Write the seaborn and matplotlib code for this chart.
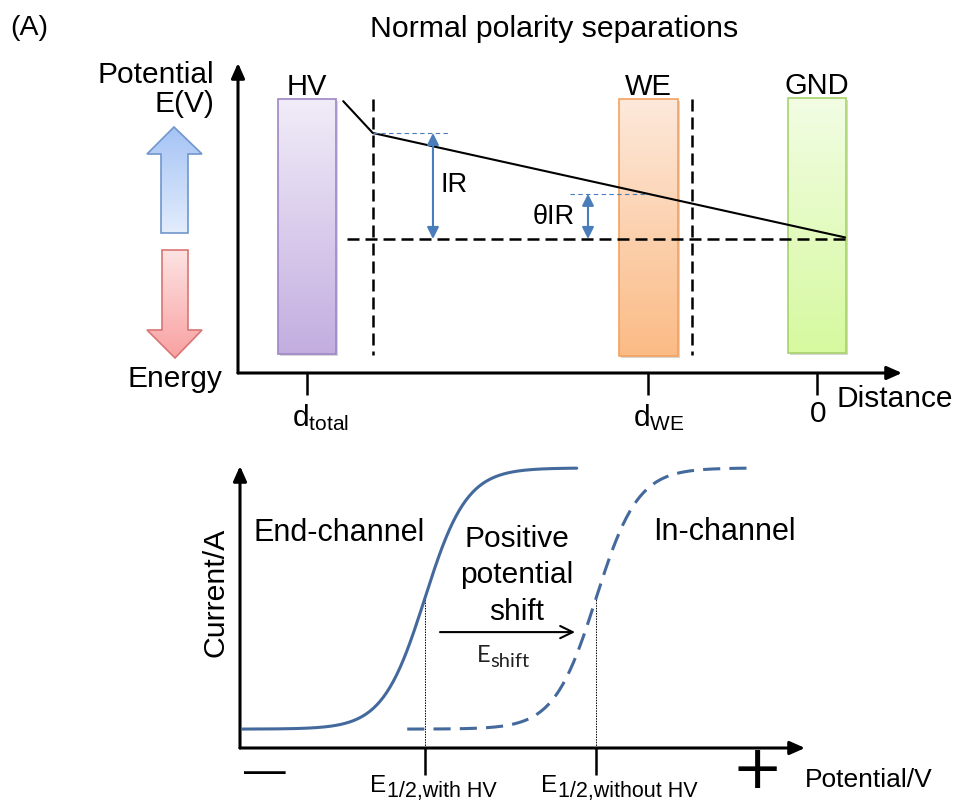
import numpy as np
import pandas as pd
import matplotlib
matplotlib.use("Agg")
import matplotlib.pyplot as plt
import matplotlib.colors as mcolors
import matplotlib.transforms as mtransforms
from matplotlib.patches import Rectangle, Polygon
import seaborn as sns

# ---------------- top panel: potential profile along the channel ----------------
electrodes = ["HV", "WE", "GND"]
electrode_distance = [10.0, 3.31, 0.0]          # distance measured from GND
electrode_top = [13.2, 13.2, 13.3]              # potential-axis extent of each electrode
electrode_bottom = [-10.85, -11.0, -10.75]
electrode_colors = [("#f1ecf8", "#c3aee0", "#9f86c6"),
                    ("#fde9db", "#fbbb85", "#f3a25f"),
                    ("#f2fde4", "#d6f99f", "#a8d26c")]
profile_distance = [9.29, 8.71, -0.55]
profile_potential = [13.0, 10.0, 0.15]
channel_bounds = [8.71, 2.45]
baseline_span = [9.22, -0.55]
ir_drop = 10.0
theta_ir = 4.26
distance_ticks = [10.0, 3.31, 0.0]
distance_ticklabels = [r"$\mathregular{d_{total}}$", r"$\mathregular{d_{WE}}$", "0"]

# ---------------- bottom panel: sigmoidal voltammograms ----------------
curve_names = ["End-channel", "In-channel"]
e_half = [3.27, 6.30]                 # half-wave potentials
curve_start = [0.04, 2.96]
curve_end = [5.96, 8.97]
i_base = 0.67
i_lim = 9.93
wave_width = 0.372
e_half_labels = ["1/2,with HV", "1/2,without HV"]

BLUE = "#4a7ebb"
CURVE = "#44699c"

sns.set_theme(style="white")
plt.rcParams["font.family"] = ["Liberation Sans", "DejaVu Sans"]
plt.rcParams["text.color"] = "black"
plt.rcParams["mathtext.fontset"] = "custom"
plt.rcParams["mathtext.rm"] = "Liberation Sans"
plt.rcParams["mathtext.it"] = "Liberation Sans:italic"
plt.rcParams["mathtext.bf"] = "Liberation Sans:bold"

W, H = 955, 802
fig = plt.figure(figsize=(W / 100, H / 100), dpi=100)


def px_axes(left, top, right, bottom):
    return fig.add_axes([left / W, 1 - bottom / H, (right - left) / W, (bottom - top) / H])


def gradient_fill(ax, extent, top_color, bottom_color, clip=None, zorder=1):
    c0 = np.array(mcolors.to_rgb(top_color))
    c1 = np.array(mcolors.to_rgb(bottom_color))
    t = np.linspace(0, 1, 256)[:, None]
    img = (c0 + (c1 - c0) * t)[:, None, :]
    im = ax.imshow(img, extent=extent, origin="upper", aspect="auto",
                   zorder=zorder, interpolation="bilinear")
    if clip is not None:
        im.set_clip_path(clip)
    return im


def axis_arrows(ax):
    style = "-|>,head_length=0.45,head_width=0.2"
    for end in [(0, 1), (1, 0)]:
        ax.annotate("", xy=end, xytext=(0, 0), xycoords="axes fraction",
                    arrowprops=dict(arrowstyle=style, lw=2.2, color="black",
                                    shrinkA=0, shrinkB=0, mutation_scale=20),
                    annotation_clip=False)


# overlay in pixel units for the surrounding labels and energy arrows
ov = fig.add_axes([0, 0, 1, 1])
ov.axis("off")

ax1 = px_axes(238, 63, 902, 373)
ax2 = px_axes(240, 466, 805, 748)
for ax in (ax1, ax2):
    ax.set_facecolor("none")
    for s in ax.spines.values():
        s.set_visible(False)
    ax.set_yticks([])

# ---- energy arrows ----
up = Polygon([(161, 233), (161, 154), (147, 154), (174, 127), (202, 154), (188, 154), (188, 233)],
             closed=True, fc="none", ec="#7096cc", lw=1.2, zorder=3)
down = Polygon([(162, 250), (188, 250), (188, 330), (202, 330), (175, 358), (147, 330), (162, 330)],
               closed=True, fc="none", ec="#d97575", lw=1.2, zorder=3)
ov.add_patch(up)
ov.add_patch(down)
gradient_fill(ov, (147, 202, 233, 127), "#a5c3f5", "#e3edfc", clip=up, zorder=2)
gradient_fill(ov, (147, 202, 358, 250), "#fde3e3", "#f9a1a1", clip=down, zorder=2)
ov.set_xlim(0, W)
ov.set_ylim(H, 0)

ov.text(10, 35, "(A)", fontsize=20.5, ha="left", va="baseline")
ov.text(554, 37, "Normal polarity separations", fontsize=21.8, ha="center", va="baseline")
ov.text(214, 83, "Potential", fontsize=21.5, ha="right", va="baseline")
ov.text(214, 112, "E(V)", fontsize=21.5, ha="right", va="baseline")
ov.text(175, 387, "Energy", fontsize=21.5, ha="center", va="baseline")
ov.text(836, 407, "Distance", fontsize=21.5, ha="left", va="baseline")

# ---------------- top panel ----------------
ew = 1.15
shadow_tr = mtransforms.offset_copy(ax1.transData, fig=fig, x=2, y=-2, units="dots")
for name, d, top, bot, (c_top, c_bot, c_edge) in zip(electrodes, electrode_distance, electrode_top,
                                                     electrode_bottom, electrode_colors):
    x0, x1 = d - ew / 2, d + ew / 2
    ax1.add_patch(Rectangle((x0, bot), ew, top - bot, transform=shadow_tr,
                            fc="#8c8c8c", ec="none", alpha=0.35, zorder=1))
    gradient_fill(ax1, (x1, x0, bot, top), c_top, c_bot, zorder=2)
    ax1.add_patch(Rectangle((x0, bot), ew, top - bot, fill=False, ec=c_edge, lw=1.2, zorder=3))
    ax1.text(d, top + 0.4, name, ha="center", va="baseline", fontsize=21)

dash_black = (0, (4.8, 2.4))
for b in channel_bounds:
    ax1.plot([b, b], [13.2, -10.9], color="black", lw=1.8, ls=dash_black, zorder=4)
ax1.plot(baseline_span, [0, 0], color="black", lw=1.8, ls=dash_black, zorder=4)

prof = pd.DataFrame({"distance": profile_distance, "potential": profile_potential})
sns.lineplot(data=prof, x="distance", y="potential", sort=False, estimator=None,
             color="black", lw=1.5, ax=ax1, zorder=5)

# IR drop and the fraction seen by the working electrode
ax1.plot([profile_distance[1], 7.20], [ir_drop, ir_drop], color=BLUE, lw=0.8, ls=(0, (4, 3)), zorder=5)
ax1.plot([4.84, electrode_distance[1]], [theta_ir, theta_ir], color=BLUE, lw=0.8, ls=(0, (4, 3)), zorder=5)
dbl = dict(arrowstyle="<|-|>,head_length=0.5,head_width=0.25", lw=1.5, color=BLUE,
           shrinkA=0, shrinkB=0, mutation_scale=14)
ax1.annotate("", xy=(7.53, ir_drop), xytext=(7.53, 0), arrowprops=dbl, zorder=6)
ax1.annotate("", xy=(4.49, theta_ir), xytext=(4.49, 0), arrowprops=dbl, zorder=6)
ax1.text(7.39, 5.09, "IR", fontsize=19.5, ha="left", va="center")
ax1.text(5.16, 2.08, "θIR", fontsize=19.5, ha="center", va="center")

ax1.set_xlim(11.353, -1.667)
ax1.set_ylim(-12.64, 16.60)
ax1.set_xlabel("")
ax1.set_ylabel("")
ax1.set_xticks(distance_ticks)
ax1.set_xticklabels([])
ax1.tick_params(axis="x", bottom=True, direction="out", length=15.8, width=1.8, color="black")
for d, lab in zip(distance_ticks, distance_ticklabels):
    if lab == "0":
        ax1.annotate(lab, xy=(d, 0), xycoords=("data", "axes fraction"), xytext=(1, -27),
                     textcoords="offset pixels", ha="center", va="top", fontsize=21.5,
                     annotation_clip=False)
    else:
        ax1.annotate(lab, xy=(d, 0), xycoords=("data", "axes fraction"), xytext=(-15, -29),
                     textcoords="offset pixels", ha="left", va="top", fontsize=21.5,
                     annotation_clip=False)
axis_arrows(ax1)

# ---------------- bottom panel ----------------
rows = []
for name, eh, e0, e1 in zip(curve_names, e_half, curve_start, curve_end):
    e = np.linspace(e0, e1, 300)
    i = i_base + (i_lim - i_base) / (1 + np.exp(-(e - eh) / wave_width))
    rows.append(pd.DataFrame({"potential": e, "current": i, "trace": name}))
waves = pd.concat(rows, ignore_index=True)
sns.lineplot(data=waves, x="potential", y="current", style="trace", estimator=None,
             dashes={"End-channel": "", "In-channel": (5.6, 3.0)}, color=CURVE, lw=2.2,
             legend=False, ax=ax2, zorder=4)

for eh in e_half:
    i_mid = i_base + (i_lim - i_base) / 2
    ax2.plot([eh, eh], [0, i_mid], color="black", lw=0.7, ls=(0, (1.5, 1.2)), zorder=3)

ax2.annotate("", xy=(5.93, 4.11), xytext=(3.54, 4.11),
             arrowprops=dict(arrowstyle="->,head_length=0.45,head_width=0.22", lw=1.5,
                             color="black", shrinkA=0, shrinkB=0, mutation_scale=20))

ax2.set_xlim(0, 10)
ax2.set_ylim(0, 10)
ax2.set_xlabel("")
ax2.set_ylabel("")
ax2.set_xticks(e_half)
ax2.set_xticklabels([])
ax2.tick_params(axis="x", bottom=True, direction="out", length=19.4, width=1.8, color="black")
for eh, sub in zip(e_half, e_half_labels):
    ax2.annotate("E", xy=(eh, 0), xycoords=("data", "axes fraction"), xytext=(-55, -44),
                 textcoords="offset pixels", ha="left", va="baseline", fontsize=17.5,
                 annotation_clip=False)
    ax2.annotate(sub, xy=(eh, 0), xycoords=("data", "axes fraction"), xytext=(-38, -49),
                 textcoords="offset pixels", ha="left", va="baseline", fontsize=15.5,
                 annotation_clip=False)
axis_arrows(ax2)

ov.text(253, 541, "End-channel", fontsize=22, ha="left", va="baseline")
ov.text(653, 540, "In-channel", fontsize=22, ha="left", va="baseline")
for txt, yb in zip(["Positive", "potential", "shift"], [547, 583, 620]):
    ov.text(517, yb, txt, fontsize=21.5, ha="center", va="baseline")
ov.text(477, 662, "E", fontsize=17, ha="left", va="baseline", family="Lato", color="#222222")
ov.text(490, 667, "shift", fontsize=14.5, ha="left", va="baseline", family="Lato", color="#222222")
ov.text(215, 592, "Current/A", fontsize=21.8, rotation=90, ha="center", va="center")
ov.text(805, 787, "Potential/V", fontsize=19, ha="left", va="baseline")
ov.text(265, 783, "\u2014", fontsize=30, ha="center", va="baseline")
ov.text(757, 801, "+", fontsize=44, ha="center", va="bottom", family="DejaVu Sans")

fig.savefig("out.png", dpi=100)
